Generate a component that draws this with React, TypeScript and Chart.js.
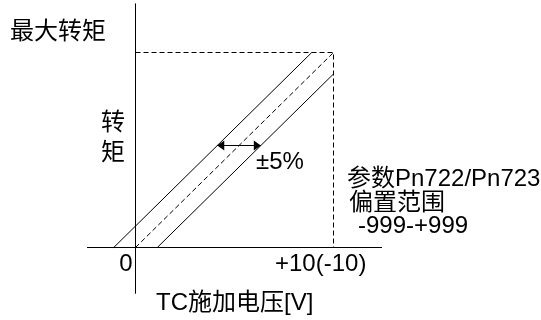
import React, { useEffect, useRef } from "react";
import { Chart, registerables } from "chart.js";

Chart.register(...registerables);

// Data (x: TC applied voltage [V], y: torque [% of max])
const yAxisX = [0, 0];
const yAxisY = [125, -23.5];
const xAxisX = [-2.45, 12.45];
const xAxisY = [0, 0];
const boxX = [0, 10, 10];
const boxY = [100, 100, 0];
const idealX = [0, 10];
const idealY = [0, 100];
const upperX = [-1.1, 8.9];
const upperY = [0, 100];
const lowerX = [1.1, 10];
const lowerY = [0, 89];
const arrowX = [4.13, 6.33];
const arrowY = [52.3, 52.3];

const labels = [
  { text: "最大转矩", x: 10, y: 32, align: "left" },
  { text: "转", x: 113, y: 123, align: "center" },
  { text: "矩", x: 113, y: 153, align: "center" },
  { text: "0", x: 126, y: 264, align: "center" },
  { text: "+10(-10)", x: 275, y: 264, align: "left" },
  { text: "TC施加电压[V]", x: 156, y: 303, align: "left" },
  { text: "±5%", x: 256, y: 162, align: "left" },
  { text: "参数Pn722/Pn723", x: 347, y: 179, align: "left" },
  { text: "偏置范围", x: 349, y: 203, align: "left" },
  { text: "-999-+999", x: 358, y: 226, align: "left" },
];

const zip = (xs: number[], ys: number[]) => xs.map((x, i) => ({ x, y: ys[i] }));

const FONT = '24px "Liberation Sans", "Noto Sans CJK SC", sans-serif';

const textPlugin = {
  id: "texts",
  afterDraw(chart: any) {
    const ctx = chart.ctx;
    ctx.save();
    ctx.fillStyle = "#000";
    ctx.font = FONT;
    ctx.textBaseline = "middle";
    for (const l of labels) {
      ctx.textAlign = l.align;
      ctx.fillText(l.text, l.x, l.y);
    }
    ctx.restore();
  },
};

const arrowPlugin = {
  id: "arrowHeads",
  afterDatasetsDraw(chart: any) {
    const ctx = chart.ctx;
    const xs = chart.scales.x;
    const ys = chart.scales.y;
    const x1 = xs.getPixelForValue(arrowX[0]);
    const x2 = xs.getPixelForValue(arrowX[1]);
    const y = ys.getPixelForValue(arrowY[0]);
    ctx.save();
    ctx.fillStyle = "#000";
    const len = 7;
    const half = 5;
    ctx.beginPath();
    ctx.moveTo(x1, y);
    ctx.lineTo(x1 + len, y - half);
    ctx.lineTo(x1 + len, y + half);
    ctx.closePath();
    ctx.fill();
    ctx.beginPath();
    ctx.moveTo(x2, y);
    ctx.lineTo(x2 - len, y - half);
    ctx.lineTo(x2 - len, y + half);
    ctx.closePath();
    ctx.fill();
    ctx.restore();
  },
};

export default function App() {
  const ref = useRef<HTMLCanvasElement | null>(null);
  useEffect(() => {
    if (!ref.current) return;
    const base = {
      borderColor: "#000",
      borderWidth: 1,
      pointRadius: 0,
      fill: false,
      showLine: true,
      tension: 0,
      clip: false as any,
    };
    const chart = new Chart(ref.current, {
      type: "scatter",
      data: {
        datasets: [
          { ...base, data: zip(yAxisX, yAxisY) },
          { ...base, data: zip(xAxisX, xAxisY) },
          { ...base, data: zip(boxX, boxY), borderDash: [5, 3] },
          { ...base, data: zip(idealX, idealY), borderDash: [5, 3] },
          { ...base, data: zip(upperX, upperY) },
          { ...base, data: zip(lowerX, lowerY) },
          { ...base, data: zip(arrowX, arrowY), borderWidth: 1.2 },
        ] as any,
      },
      options: {
        animation: false,
        responsive: false,
        maintainAspectRatio: false,
        layout: { padding: 0 },
        plugins: { legend: { display: false }, tooltip: { enabled: false } },
        scales: {
          x: { type: "linear", display: false, min: -135.5 / 19.8, max: (541 - 135.5) / 19.8 },
          y: { type: "linear", display: false, min: -(320 - 247.5) / 1.95, max: 247.5 / 1.95 },
        },
      },
      plugins: [arrowPlugin, textPlugin],
    });
    return () => chart.destroy();
  }, []);
  return (
    <div style={{ position: "fixed", left: 0, top: 0, width: 541, height: 320, background: "#fff" }}>
      <canvas ref={ref} width={541} height={320} />
    </div>
  );
}
